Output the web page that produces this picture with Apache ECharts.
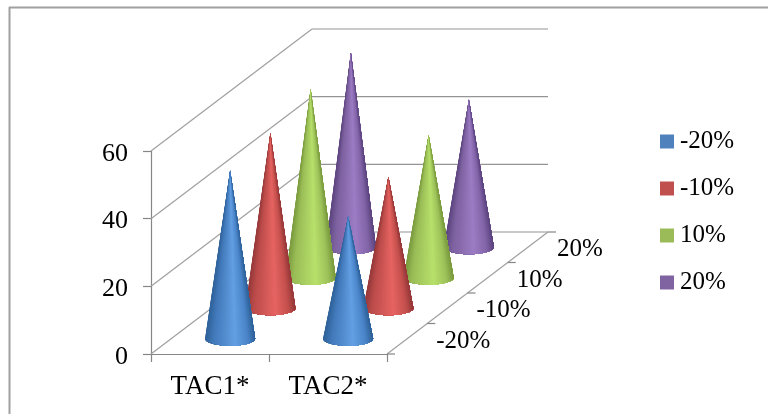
<!DOCTYPE html>
<html>
<head>
<meta charset="utf-8">
<style>html,body{margin:0;padding:0;background:#fff}#chart{width:768px;height:414px}</style>
<script src="https://cdn.jsdelivr.net/npm/echarts@6/dist/echarts.min.js"></script>
</head>
<body>
<div id="chart"></div>
<script>
// Cone heights per depth row, one value per category
const categories = ['TAC1*', 'TAC2*'];
const depthLabels = ['-20%', '-10%', '10%', '20%'];
const yTicks = [0, 20, 40, 60];
const minus20 = [49.7, 36.1];
const minus10 = [51.8, 38.9];
const plus10 = [55.8, 42.2];
const plus20 = [57.5, 43.7];

const rows = [minus20, minus10, plus10, plus20];
const swatches = ['#4f81bd', '#c0504d', '#9bbb59', '#8064a2'];
const shades = [
  ['#2f6299', '#4279ba', '#629fe2', '#4a84c8', '#2f6299'],
  ['#96393a', '#bb4c4a', '#e66462', '#c4504d', '#96393a'],
  ['#7a9a3e', '#9abd57', '#b7e06b', '#9dc25a', '#7a9a3e'],
  ['#5c4580', '#7d619f', '#9c7cc4', '#8264a8', '#5c4580']
];
const shadeStops = [0, 0.16, 0.6, 0.86, 1];

// Oblique projection: the floor recedes by this many pixels over its whole depth
const DEPTH_DX = 161;
const DEPTH_DY = -122;
const CONE_RX = 25;
const CONE_RY = 7;
const LINE = '#a0a0a0';
const TICK = '#868686';
const FONT = '"Liberation Serif", "Times New Roman", serif';

function depthShift(t) {
  return [DEPTH_DX * t, DEPTH_DY * t];
}

// Colour across the cone's width, t running from its left edge to its right edge
function shadeAt(palette, t) {
  for (let i = 1; i < shadeStops.length; i++) {
    if (t <= shadeStops[i]) {
      const f = (t - shadeStops[i - 1]) / (shadeStops[i] - shadeStops[i - 1]);
      return echarts.color.lerp(f, [palette[i - 1], palette[i]]);
    }
  }
  return palette[palette.length - 1];
}

// Painted left to right: each layer repaints what remains of the cone to the right
// of the previous facet, so neighbouring facets leave no seam between them
function renderCone(row) {
  return function (params, api) {
    const base = api.coord([api.value(0), 0]);
    const top = api.coord([api.value(0), api.value(1)]);
    const s = depthShift((row + 0.5) / depthLabels.length);
    const cx = base[0] + s[0];
    const cy = base[1] + s[1];
    const ay = top[1] + s[1];
    const children = [];
    const step = 4;
    for (let a = 184; a > -4; a -= step) {
      const points = [[cx, ay]];
      for (let b = a; b >= -4; b -= step) {
        const r = b * Math.PI / 180;
        points.push([cx + CONE_RX * Math.cos(r), cy + CONE_RY * Math.sin(r)]);
      }
      const x = CONE_RX * Math.cos((a - step / 2) * Math.PI / 180);
      const t = Math.min(1, Math.max(0, (x + CONE_RX) / (2 * CONE_RX)));
      children.push({
        type: 'polygon',
        shape: { points },
        style: { fill: shadeAt(shades[row], t) }
      });
    }
    return { type: 'group', children };
  };
}

// Back wall, side wall and floor lines for each value tick
function renderFrame(params, api) {
  const v = api.value(0);
  const mid = api.coord([0, v]);
  const half = api.size([1, 0])[0] / 2;
  const left = mid[0] - half;
  const right = left + half * 2 * categories.length;
  const y = mid[1];
  const full = depthShift(1);
  const line = (x1, y1, x2, y2, color) => ({
    type: 'line',
    shape: { x1, y1, x2, y2 },
    style: { stroke: color || LINE, lineWidth: 1.2 }
  });
  const children = [
    line(left, y, left + full[0], y + full[1]),
    line(left + full[0], y + full[1], right + full[0], y + full[1], '#949494')
  ];
  if (v === 0) {
    children.push(line(right, y, right + full[0], y + full[1]));
    for (let k = 0; k <= depthLabels.length; k++) {
      const s = depthShift(k / depthLabels.length);
      children.push(line(right + s[0], y + s[1], right + s[0] + 8, y + s[1], TICK));
    }
  }
  return { type: 'group', children };
}

function renderDepthLabel(params, api) {
  const i = api.value(0);
  const corner = api.coord([categories.length - 1, 0]);
  const half = api.size([1, 0])[0] / 2;
  const s = depthShift((i + 0.5) / depthLabels.length);
  return {
    type: 'text',
    style: {
      x: corner[0] + half + s[0] + 29,
      y: corner[1] + s[1] + 2.5,
      text: depthLabels[i],
      fill: '#000',
      font: '25px ' + FONT,
      textAlign: 'left',
      textVerticalAlign: 'middle'
    }
  };
}

const coneSeries = rows.map((values, row) => ({
  type: 'custom',
  name: depthLabels[row],
  z: 3,
  itemStyle: { color: swatches[row] },
  encode: { x: 0, y: 1 },
  data: values.map((v, i) => [i, v]),
  renderItem: renderCone(row)
})).reverse();

const chart = echarts.init(document.getElementById('chart'), null, { renderer: 'canvas' });
chart.setOption({
  animation: false,
  backgroundColor: '#fff',
  textStyle: { fontFamily: FONT },
  grid: { left: 151, right: 381, top: 151, bottom: 60 },
  legend: {
    data: depthLabels,
    orient: 'vertical',
    left: 660,
    top: 129,
    padding: 0,
    icon: 'rect',
    itemWidth: 14,
    itemHeight: 14,
    itemGap: 22,
    selectedMode: false,
    textStyle: { fontFamily: FONT, fontSize: 25, color: '#000', padding: [0, 0, 0, 1] }
  },
  xAxis: {
    type: 'category',
    data: categories,
    axisLine: { lineStyle: { color: TICK, width: 1.2 } },
    axisTick: { show: true, length: 8, lineStyle: { color: TICK, width: 1.2 } },
    axisLabel: { color: '#000', fontSize: 27, fontFamily: FONT, margin: 19 }
  },
  yAxis: {
    type: 'value',
    min: 0,
    max: 60,
    interval: 20,
    splitLine: { show: false },
    axisLine: { show: true, lineStyle: { color: TICK, width: 1.2 } },
    axisTick: { show: true, length: 8, lineStyle: { color: TICK, width: 1.2 } },
    axisLabel: {
      margin: 23,
      formatter: '{v|{value}}',
      rich: { v: { color: '#000', fontSize: 26, fontFamily: FONT, padding: [6, 0, 0, 0] } }
    }
  },
  graphic: [
    { type: 'line', silent: true, shape: { x1: 9.5, y1: 7, x2: 9.5, y2: 414 }, style: { stroke: '#a0a0a0', lineWidth: 2 } },
    { type: 'line', silent: true, shape: { x1: 9, y1: 7.5, x2: 768, y2: 7.5 }, style: { stroke: '#a0a0a0', lineWidth: 2 } }
  ],
  series: [
    { type: 'custom', name: 'frame', z: 1, silent: true, encode: { y: 0 }, data: yTicks.map(v => [v]), renderItem: renderFrame },
    ...coneSeries,
    { type: 'custom', name: 'depth', z: 4, silent: true, data: depthLabels.map((d, i) => [i]), renderItem: renderDepthLabel }
  ]
});
</script>
</body>
</html>
